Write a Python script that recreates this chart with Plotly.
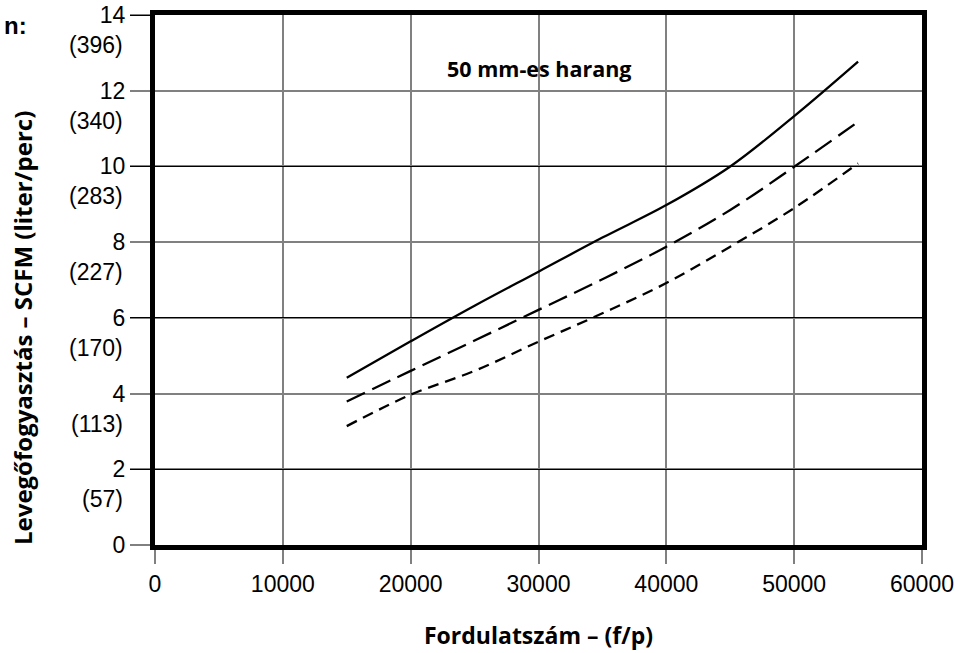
import plotly.graph_objects as go

# rotational speed (f/p)
rpm = [15000, 20000, 25000, 30000, 35000, 40000, 45000, 50000, 55000]

# air consumption, SCFM - three curves
solid_scfm = [4.42, 5.38, 6.32, 7.22, 8.12, 8.98, 10.0, 11.33, 12.77]
longdash_scfm = [3.79, 4.6, 5.4, 6.21, 7.02, 7.88, 8.85, 9.99, 11.18]
shortdash_scfm = [3.14, 3.97, 4.6, 5.37, 6.12, 6.92, 7.88, 8.9, 10.08]

x_ticks = [0, 10000, 20000, 30000, 40000, 50000, 60000]
x_tick_text = ["0", "10000", "20000", "30000", "40000", "50000", "60000"]
y_ticks = [0, 2, 4, 6, 8, 10, 12, 14]
y_tick_text = ["0", "2", "4", "6", "8", "10", "12", "14"]
liter_text = ["", "(57)", "(113)", "(170)", "(227)", "(283)", "(340)", "(396)"]
black_grid = [2, 6, 10, 14]

tick_font = dict(family="Liberation Sans, Arial", size=23, color="black")
bold_font = dict(family="Open Sans", size=23, color="black")

fig = go.Figure()
fig.add_trace(go.Scatter(x=rpm, y=solid_scfm, mode="lines", yaxis="y2",
                         line=dict(color="black", width=2.3), line_shape="spline"))
fig.add_trace(go.Scatter(x=rpm, y=longdash_scfm, mode="lines", yaxis="y2",
                         line=dict(color="black", width=2.3, dash="20px,8px"), line_shape="spline"))
fig.add_trace(go.Scatter(x=rpm, y=shortdash_scfm, mode="lines", yaxis="y2",
                         line=dict(color="black", width=2.3, dash="11px,7px"), line_shape="spline"))

# liter/perc labels under the SCFM ticks
annotations = []
for v, t in zip(y_ticks, liter_text):
    if t:
        annotations.append(dict(text=t, x=-0.039, xref="paper", xanchor="right", y=v, yref="y",
                                yshift=-30, showarrow=False, font=tick_font))

annotations += [
    dict(text="<b>50 mm-es harang</b>", x=30000, xref="x", y=12.6, yref="y", showarrow=False,
         font=dict(family="Open Sans", size=21.5, color="black")),
    dict(text="<b>Fordulatszám – (f/p)</b>", x=0.5, xref="paper", y=-0.17, yref="paper",
         yanchor="middle", showarrow=False, font=bold_font),
    dict(text="<b>Levegőfogyasztás – SCFM (liter/perc)</b>", x=-0.173, xref="paper", xanchor="center",
         y=0.41, yref="paper", yanchor="middle", textangle=-90, showarrow=False,
         font=dict(family="Open Sans", size=24, color="black")),
    dict(text="<b>n:</b>", x=-0.2, xref="paper", xanchor="left", y=0.981, yref="paper",
         yanchor="middle", showarrow=False, font=dict(family="Liberation Sans, Arial", size=24, color="black")),
]

fig.update_layout(
    width=969, height=653,
    margin=dict(l=155, r=47, t=15, b=108),
    plot_bgcolor="white", paper_bgcolor="white",
    showlegend=False,
    xaxis=dict(range=[0, 60000], tickvals=x_ticks, ticktext=x_tick_text, ticks="outside", ticklen=14,
               tickwidth=1.5, tickcolor="#808080", showgrid=True, gridcolor="#808080", gridwidth=1.5,
               showline=True, linecolor="black", linewidth=5, mirror=True, zeroline=False,
               tickfont=tick_font, automargin=False),
    yaxis=dict(range=[0, 14], tickvals=y_ticks, ticktext=y_tick_text, ticks="outside", ticklen=20,
               tickwidth=1.5, tickcolor="#808080", showgrid=True, gridcolor="#808080", gridwidth=1.5,
               showline=True, linecolor="black", linewidth=5, mirror=True, zeroline=False,
               tickfont=tick_font, ticklabeloverflow="allow", automargin=False),
    yaxis2=dict(range=[0, 14], overlaying="y", side="left", tickvals=black_grid, ticks="outside",
                ticklen=20, tickwidth=1, tickcolor="black", showticklabels=False, showgrid=True,
                gridcolor="black", gridwidth=1, showline=True, linecolor="black", linewidth=5,
                mirror=True, zeroline=False, automargin=False),
    annotations=annotations,
)

# page body has a default 8px margin; drop it so the figure fills the window
fig.write_html("out.html", config={"displayModeBar": False},
               post_script="document.body.style.margin='0';")
